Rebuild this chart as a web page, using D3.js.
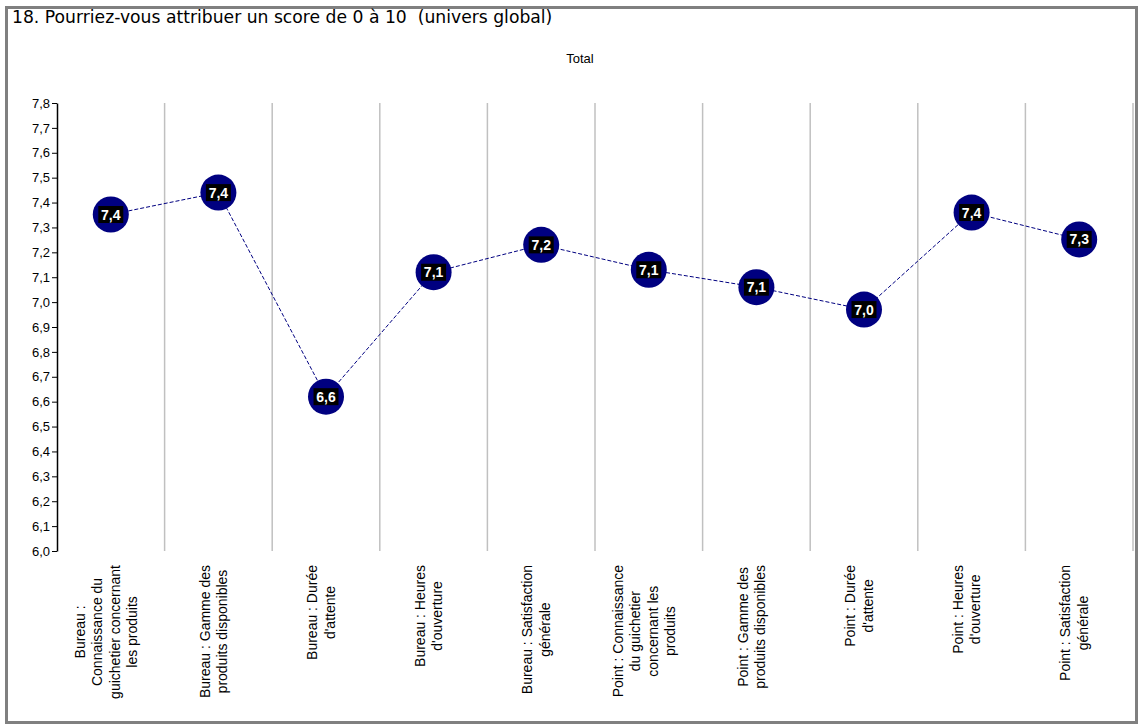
<!DOCTYPE html>
<html><head><meta charset="utf-8">
<script src="https://cdn.jsdelivr.net/npm/d3@7"></script>
<style>html,body{margin:0;padding:0;background:#fff;}svg{display:block;}</style>
</head><body>
<svg id="c" width="1140" height="725"></svg>
<script>
const categories = [
  ["Bureau :", "Connaissance du", "guichetier concernant", "les produits"],
  ["Bureau : Gamme des", "produits disponibles"],
  ["Bureau : Durée", "d'attente"],
  ["Bureau : Heures", "d'ouverture"],
  ["Bureau : Satisfaction", "générale"],
  ["Point : Connaissance", "du guichetier", "concernant les", "produits"],
  ["Point : Gamme des", "produits disponibles"],
  ["Point : Durée", "d'attente"],
  ["Point : Heures", "d'ouverture"],
  ["Point : Satisfaction", "générale"]
];
const values = [7.352, 7.44, 6.62, 7.12, 7.23, 7.13, 7.06, 6.97, 7.36, 7.252];
const yTicks = [6.0,6.1,6.2,6.3,6.4,6.5,6.6,6.7,6.8,6.9,7.0,7.1,7.2,7.3,7.4,7.5,7.6,7.7,7.8];
const titleText = "18. Pourriez-vous attribuer un score de 0 à 10  (univers global)";
const chartTitle = "Total";

(function () {
const svg = d3.select("#c");
const fmt = v => d3.format(".1f")(v).replace(".", ",");
const arial = "Liberation Sans, Arial, sans-serif";

// frame
svg.append("rect").attr("x", 6.5).attr("y", 7.5).attr("width", 1130).attr("height", 715)
  .attr("fill", "#fff").attr("stroke", "#808080").attr("stroke-width", 3);

svg.append("text").attr("x", 12).attr("y", 23)
  .attr("font-family", "DejaVu Sans, Verdana, sans-serif").attr("font-size", 17.2)
  .style("white-space", "pre")
  .attr("fill", "#000").text(titleText);

svg.append("text").attr("x", 580).attr("y", 63).attr("text-anchor", "middle")
  .attr("font-family", arial).attr("font-size", 13)
  .text(chartTitle);

const pLeft = 57, pRight = 1133, pTop = 103, pBottom = 551;
const x = d3.scaleBand().domain(d3.range(categories.length)).range([pLeft, pRight]);
const y = d3.scaleLinear().domain([6.0, 7.8]).range([pBottom, pTop]);

// separators
svg.append("g").selectAll("line").data(d3.range(1, categories.length + 1)).join("line")
  .attr("x1", d => x(d - 1) + x.bandwidth()).attr("x2", d => x(d - 1) + x.bandwidth())
  .attr("y1", pTop).attr("y2", pBottom)
  .attr("stroke", "#c0c0c0").attr("stroke-width", 1.5);

// y axis
const yAxis = svg.append("g").attr("transform", `translate(${pLeft},0)`)
  .call(d3.axisLeft(y).tickValues(yTicks).tickFormat(fmt).tickSize(5).tickSizeOuter(0));
yAxis.select(".domain").attr("stroke", "#000").attr("stroke-width", 1.5);
yAxis.selectAll(".tick line").attr("stroke", "#000");
yAxis.selectAll("text").attr("font-family", arial)
  .attr("font-size", 13).attr("fill", "#000").attr("x", -7);

// x labels
const lineH = 17.5, labelTop = 565;
const lab = svg.append("g").attr("font-family", arial).attr("font-size", 14);
categories.forEach((lines, i) => {
  const cx = x(i) + x.bandwidth() / 2;
  const g = lab.append("g");
  const texts = lines.map((t, k) => g.append("text").attr("text-anchor", "middle").text(t));
  const maxW = d3.max(texts, t => t.node().getComputedTextLength());
  const cy = labelTop + maxW / 2;
  const n = lines.length;
  texts.forEach((t, k) => {
    const lx = cx + (k - (n - 1) / 2) * lineH;
    t.attr("transform", `translate(${lx},${cy}) rotate(-90)`);
  });
});

// line
const line = d3.line().x((d, i) => x(i) + x.bandwidth() / 2).y(d => y(d));
svg.append("path").datum(values).attr("d", line).attr("fill", "none")
  .attr("stroke", "#000080").attr("stroke-width", 1).attr("stroke-dasharray", "4,2");

// markers
const m = svg.append("g").selectAll("g").data(values).join("g")
  .attr("transform", (d, i) => `translate(${x(i) + x.bandwidth() / 2},${y(d)})`);
m.append("circle").attr("r", 18).attr("fill", "#000080");
m.append("rect").attr("x", -12.5).attr("y", -8.5).attr("width", 25).attr("height", 17).attr("fill", "#000");
m.append("text").attr("text-anchor", "middle").attr("dy", "0.36em")
  .attr("font-family", arial).attr("font-size", 14).attr("font-weight", "bold")
  .attr("fill", "#fff").text(d => fmt(d));
})();
</script>
</body></html>
